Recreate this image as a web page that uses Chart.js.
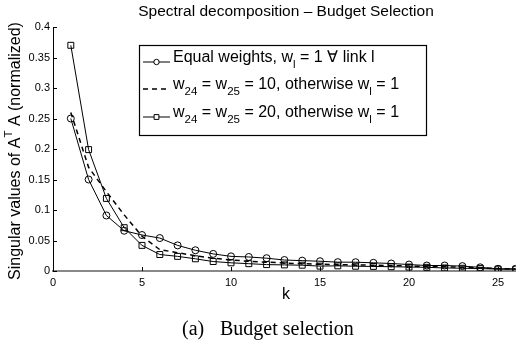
<!DOCTYPE html>
<html>
<head>
<meta charset="utf-8">
<script src="https://cdn.jsdelivr.net/npm/chart.js@4/dist/chart.umd.min.js"></script>
<style>
  body { margin: 0; background: #fff; }
  #wrap { width: 521px; height: 343px; position: relative; }
</style>
</head>
<body>
<div id="wrap"><canvas id="spectralChart"></canvas></div>
<script>
// ============================================
// Spectral decomposition - Budget Selection
// ============================================

const kValues = [1, 2, 3, 4, 5, 6, 7, 8, 9, 10, 11, 12, 13, 14, 15, 16, 17, 18, 19, 20, 21, 22, 23, 24, 25, 26];

// equal weights (circles)
const equalWeights = [0.250, 0.150, 0.091, 0.066, 0.059, 0.054, 0.042, 0.034, 0.028, 0.024, 0.023, 0.021, 0.018,
    0.017, 0.016, 0.0145, 0.0144, 0.0134, 0.0123, 0.0106, 0.009, 0.009, 0.008, 0.006, 0.0036, 0.0035];

// w24 = w25 = 10 (dashed)
const weights10 = [0.260, 0.170, 0.130, 0.092, 0.057, 0.035, 0.030, 0.025, 0.021, 0.018, 0.016, 0.0145, 0.013,
    0.012, 0.011, 0.0105, 0.010, 0.0095, 0.009, 0.008, 0.0075, 0.007, 0.006, 0.005, 0.004, 0.003];

// w24 = w25 = 20 (squares)
const weights20 = [0.370, 0.199, 0.119, 0.071, 0.042, 0.027, 0.024, 0.020, 0.0155, 0.0134, 0.012, 0.0105, 0.010,
    0.0095, 0.008, 0.0085, 0.0078, 0.0075, 0.007, 0.0065, 0.006, 0.005, 0.0045, 0.004, 0.003, 0.003];

// legend texts (_{} = subscript, ^{} = superscript)
const seriesLabels = [
    'Equal weights, w_{l} = 1 \u2200 link l',
    'w_{24} = w_{25} = 10, otherwise w_{l} = 1',
    'w_{24} = w_{25} = 20, otherwise w_{l} = 1'
];

const xTickValues = [0, 5, 10, 15, 20, 25];
const yTickValues = [0, 0.05, 0.1, 0.15, 0.2, 0.25, 0.3, 0.35, 0.4];

const chartTitle = 'Spectral decomposition \u2013 Budget Selection';
const xTitle = 'k';
const yTitle = 'Singular values of A^{T} A (normalized)';
const captionTag = '(a)';
const captionText = 'Budget selection';

const FONT = '"Liberation Sans", Arial, Helvetica, sans-serif';
const SERIF = '"Liberation Serif", "Times New Roman", serif';

// draw text with simple sub/superscripts, returns width
function drawRich(ctx, text, x, y, size, measureOnly) {
    const parts = [];
    const re = /([_^])\{([^}]*)\}/g;
    let last = 0, m;
    while ((m = re.exec(text)) !== null) {
        if (m.index > last) parts.push({ t: text.slice(last, m.index), k: 'n' });
        parts.push({ t: m[2], k: m[1] === '_' ? 'sub' : 'sup' });
        last = re.lastIndex;
    }
    if (last < text.length) parts.push({ t: text.slice(last), k: 'n' });

    let cx = x;
    ctx.textBaseline = 'middle';
    ctx.textAlign = 'left';
    parts.forEach(p => {
        let s = size, dy = 0;
        if (p.k === 'sub') { s = size * 0.72; dy = size * 0.42; }
        if (p.k === 'sup') { s = size * 0.72; dy = -size * 0.45; }
        ctx.font = s + 'px ' + FONT;
        if (!measureOnly) ctx.fillText(p.t, cx, y + dy);
        cx += ctx.measureText(p.t).width;
    });
    return cx - x;
}

const decorPlugin = {
    id: 'decor',
    afterDraw(chart) {
        const ctx = chart.ctx;
        const xs = chart.scales.x;
        const ys = chart.scales.y;
        const area = chart.chartArea;
        ctx.save();
        ctx.fillStyle = '#000';
        ctx.strokeStyle = '#000';

        // inward tick marks
        ctx.lineWidth = 1;
        ctx.beginPath();
        xTickValues.forEach(v => {
            const px = Math.round(xs.getPixelForValue(v)) + 0.5;
            ctx.moveTo(px, area.bottom);
            ctx.lineTo(px, area.bottom - 4);
        });
        yTickValues.forEach(v => {
            const py = Math.round(ys.getPixelForValue(v)) + 0.5;
            ctx.moveTo(area.left, py);
            ctx.lineTo(area.left + 4, py);
        });
        ctx.stroke();

        // title
        ctx.font = '15.5px ' + FONT;
        ctx.textAlign = 'center';
        ctx.textBaseline = 'middle';
        ctx.fillText(chartTitle, 286, 12);

        // x title
        ctx.font = '16px ' + FONT;
        ctx.fillText(xTitle, 286, 295);

        // caption
        ctx.font = '20px ' + SERIF;
        ctx.textAlign = 'left';
        ctx.fillText(captionTag, 182, 330);
        ctx.fillText(captionText, 220, 330);

        // y title (rotated)
        ctx.save();
        ctx.translate(16, 151);
        ctx.rotate(-Math.PI / 2);
        const w = drawRich(ctx, yTitle, 0, 0, 16, true);
        drawRich(ctx, yTitle, -w / 2, 0, 16, false);
        ctx.restore();

        // legend box
        const box = { left: 139.5, top: 45.5, right: 426.5, bottom: 135.5 };
        ctx.fillStyle = '#fff';
        ctx.fillRect(box.left, box.top, box.right - box.left, box.bottom - box.top);
        ctx.lineWidth = 1.2;
        ctx.strokeRect(box.left, box.top, box.right - box.left, box.bottom - box.top);
        const rowY = [62, 89, 117];
        chart.data.datasets.forEach((ds, i) => {
            const y = rowY[i];
            ctx.save();
            ctx.strokeStyle = '#000';
            ctx.fillStyle = '#fff';
            ctx.lineWidth = ds.borderWidth;
            ctx.setLineDash(ds.borderDash || []);
            ctx.beginPath();
            ctx.moveTo(143, y);
            ctx.lineTo(170, y);
            ctx.stroke();
            ctx.setLineDash([]);
            ctx.lineWidth = 1;
            if (ds.pointRadius > 0) {
                Chart.helpers.drawPoint(ctx, {
                    pointStyle: ds.pointStyle,
                    radius: ds.pointRadius - 0.8,
                    borderWidth: 1
                }, 156.5, y);
            }
            ctx.restore();
            ctx.fillStyle = '#000';
            drawRich(ctx, seriesLabels[i], 173, y - 4, 16, false);
        });

        ctx.restore();
    }
};

const ctx = document.getElementById('spectralChart');

new Chart(ctx, {
    type: 'line',
    data: {
        labels: kValues,
        datasets: [
            {
                label: seriesLabels[0],
                data: kValues.map((k, i) => ({ x: k, y: equalWeights[i] })),
                borderColor: '#000',
                borderWidth: 1,
                pointStyle: 'circle',
                pointRadius: 3.5,
                pointBorderWidth: 1,
                pointBackgroundColor: 'rgba(0,0,0,0)',
                pointBorderColor: '#000',
                tension: 0
            },
            {
                label: seriesLabels[1],
                data: kValues.map((k, i) => ({ x: k, y: weights10[i] })),
                borderColor: '#000',
                borderWidth: 1.5,
                borderDash: [5, 4],
                pointRadius: 0,
                tension: 0
            },
            {
                label: seriesLabels[2],
                data: kValues.map((k, i) => ({ x: k, y: weights20[i] })),
                borderColor: '#000',
                borderWidth: 1,
                pointStyle: 'rect',
                pointRadius: 4.2,
                pointBorderWidth: 1,
                pointBackgroundColor: 'rgba(0,0,0,0)',
                pointBorderColor: '#000',
                tension: 0
            }
        ]
    },
    options: {
        responsive: true,
        maintainAspectRatio: false,
        animation: false,
        layout: {
            padding: { top: 27, left: 0, right: 2, bottom: 52 }
        },
        scales: {
            x: {
                type: 'linear',
                min: 0,
                max: 26,
                afterBuildTicks: s => { s.ticks = xTickValues.map(v => ({ value: v })); },
                afterFit: s => { s.height = 20; },
                grid: { display: false, drawTicks: false },
                border: { display: true, color: '#888', width: 2 },
                ticks: {
                    color: '#000',
                    padding: 5,
                    maxRotation: 0,
                    font: { family: FONT, size: 11 }
                }
            },
            y: {
                min: 0,
                max: 0.4,
                afterBuildTicks: s => { s.ticks = yTickValues.map(v => ({ value: v })); },
                afterFit: s => { s.width = 53; },
                grid: { display: false, drawTicks: false },
                border: { display: true, color: '#000', width: 1 },
                ticks: {
                    color: '#000',
                    padding: 3,
                    font: { family: FONT, size: 11 },
                    callback: v => String(Number(v.toFixed(2)))
                }
            }
        },
        plugins: {
            legend: { display: false },
            tooltip: { enabled: false }
        }
    },
    plugins: [decorPlugin]
});
</script>
</body>
</html>
